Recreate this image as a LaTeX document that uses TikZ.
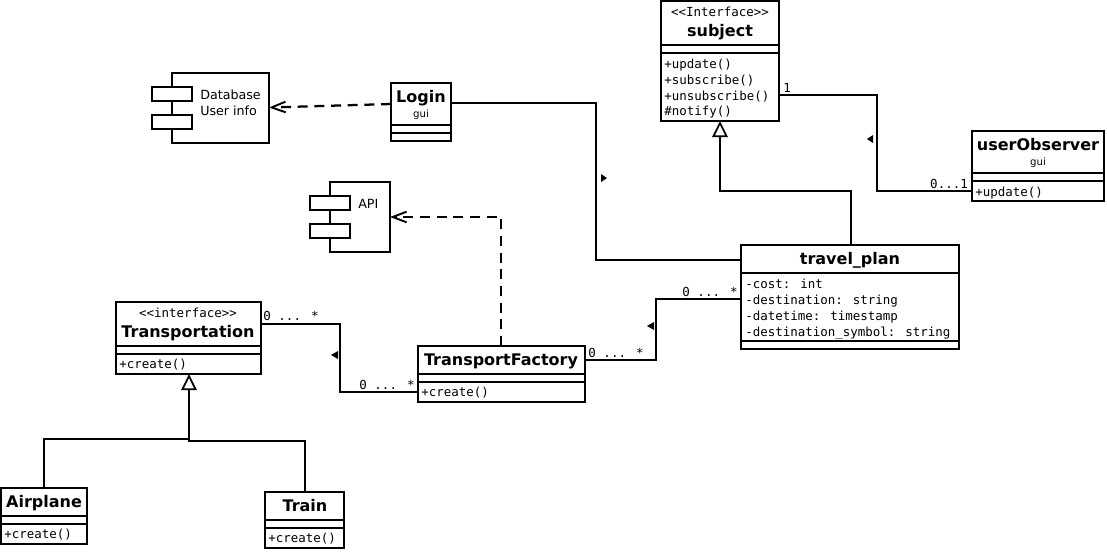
\documentclass[tikz,border=0pt]{standalone}
\usepackage{fontspec}
\setmainfont{DejaVu Sans}
\newfontfamily\monof{DejaVu Sans Mono}
\usetikzlibrary{arrows.meta}
\tikzset{
  x=.75pt,y=-.75pt,
  umlbox/.style={draw,line width=1.7pt,fill=white,rectangle,inner sep=0pt,outer sep=0pt,anchor=north west},
  divline/.style={line width=1.7pt},
  conn/.style={line width=1.7pt,line join=miter},
  depend/.style={line width=1.7pt,dash pattern=on 7.5pt off 5pt,-{Straight Barb[length=10.5pt,width=8pt,line width=1.4pt]}},
  general/.style={conn,-{Triangle[open,fill=white,length=12pt,width=11.5pt,line width=1.3pt]}},
  titletext/.style={inner sep=0pt,anchor=mid,yshift=-1.3pt,font=\fontsize{12}{14}\selectfont\bfseries},
  stereo/.style={inner sep=0pt,anchor=mid,font=\monof\fontsize{9.35}{11}\selectfont},
  small/.style={inner sep=0pt,anchor=mid,font=\fontsize{7.6}{9}\selectfont},
  member/.style={inner sep=0pt,anchor=mid west,yshift=-1.1pt,font=\monof\fontsize{9.35}{11}\selectfont},
  multi/.style={inner sep=0pt,anchor=mid,yshift=-.5pt,font=\monof\fontsize{9.35}{11}\selectfont},
  comptext/.style={inner sep=0pt,anchor=mid west,yshift=-1.3pt,font=\fontsize{9.5}{11}\selectfont},
  marker/.style={fill=black}
}
\newcommand{\mkbox}[5]{\node[umlbox,minimum width={(#4-#2)*.75pt},minimum height={(#5-#3)*.75pt}] (#1) at (#2,#3) {};}
\newcommand{\mkdiv}[2]{\draw[divline] (#1.west |- 0,#2) -- (#1.east |- 0,#2);}
\begin{document}
\begin{tikzpicture}
\useasboundingbox (0,0) rectangle (1107,551);
\fill[white] (0,0) rectangle (1107,551);

\coordinate (genjoin) at (189,440);

% class boxes
\mkbox{subject}{661}{1}{779}{121}
\mkdiv{subject}{45}\mkdiv{subject}{53}
\node[stereo] (subjs) at (720,13) {<{}<Interface>{}>};
\node[titletext] (subjt) at (720,31) {subject};
\node[member] (subj1) at (664,63) {+update()};
\node[member] (subj2) at (664,79) {+subscribe()};
\node[member] (subj3) at (664,95) {+unsubscribe()};
\node[member] (subj4) at (664,110) {\#notify()};

\mkbox{login}{391}{83}{451}{141}
\mkdiv{login}{125}\mkdiv{login}{133}
\node[titletext] (logint) at (421,97) {Login};
\node[small] (loging) at (421,114) {gui};

\mkbox{obs}{972}{131}{1104}{201}
\mkdiv{obs}{173}\mkdiv{obs}{181}
\node[titletext] (obst) at (1038,145) {userObserver};
\node[small] (obsg) at (1038,162) {gui};
\node[member] (obs1) at (975,191) {+update()};

\mkbox{plan}{741}{245}{959}{349}
\mkdiv{plan}{273}\mkdiv{plan}{341}
\node[titletext] (plant) at (850,259) {travel\_plan};
\node[member] (plan1) at (745,283) {-cost: int};
\node[member] (plan2) at (745,299) {-destination: string};
\node[member] (plan3) at (745,315) {-datetime: timestamp};
\node[member] (plan4) at (745,331) {-destination\_symbol: string};

\mkbox{trans}{116}{302}{261}{374}
\mkdiv{trans}{346}\mkdiv{trans}{354}
\node[stereo] (transs) at (188,314) {<{}<interface>{}>};
\node[titletext] (transt) at (188,332) {Transportation};
\node[member] (trans1) at (119,363) {+create()};

\mkbox{factory}{418}{346}{585}{402}
\mkdiv{factory}{374}\mkdiv{factory}{382}
\node[titletext] (factt) at (501,360) {TransportFactory};
\node[member] (fact1) at (421,391) {+create()};

\mkbox{air}{1}{488}{87}{544}
\mkdiv{air}{516}\mkdiv{air}{524}
\node[titletext] (airt) at (44,502) {Airplane};
\node[member] (air1) at (4,533) {+create()};

\mkbox{train}{265}{492}{344}{548}
\mkdiv{train}{520}\mkdiv{train}{528}
\node[titletext] (traint) at (305,506) {Train};
\node[member] (train1) at (268,537) {+create()};

% components
\mkbox{db}{172}{73}{269}{143}
\mkbox{dbp1}{152}{87}{192}{101}
\mkbox{dbp2}{152}{115}{192}{129}
\node[comptext] (dbt1) at (200,94) {Database};
\node[comptext] (dbt2) at (200,110) {User info};

\mkbox{api}{330}{182}{390}{252}
\mkbox{apip1}{310}{196}{350}{210}
\mkbox{apip2}{310}{224}{350}{238}
\node[comptext] (apit) at (358,203) {API};

% connectors
\draw[conn] (subject.east |- 0,95) -- (877,95) -- (877,191) -- (obs.west |- 0,191);
\draw[conn] (login.east |- 0,103) -- (596,103) -- (596,260) -- (plan.west |- 0,260);
\draw[conn] (factory.east |- 0,360) -- (656,360) -- (656,299) -- (plan.west |- 0,299);
\draw[conn] (trans.east |- 0,324) -- (340,324) -- (340,392) -- (factory.west |- 0,392);
\draw[general] (plan.north -| 851,0) -- (851,191) -- (720,191) -- (subject.south -| 720,0);
\draw[general] (genjoin) -- (trans.south -| 189,0);
\draw[conn] (air.north -| 44,0) -- (44,439) -- (190,439);
\draw[conn] (train.north -| 305,0) -- (305,441) -- (188,441);
\draw[depend] (login.west |- 0,104) -- (db.east |- 0,107.5);
\draw[depend] (factory.north -| 501,0) -- (501,217) -- (api.east |- 0,217);

% direction markers
\fill[marker] (867,139) -- (873,135) -- (873,143) -- cycle;
\fill[marker] (607,178) -- (601,174) -- (601,182) -- cycle;
\fill[marker] (331,355) -- (338,351) -- (338,359) -- cycle;
\fill[marker] (647,326) -- (654,322) -- (654,330) -- cycle;

% multiplicities
\node[multi] (m1) at (787,88) {1};
\node[multi] (m2) at (949,184) {0...1};
\node[multi] (m3) at (291,316) {0 ... *};
\node[multi] (m4) at (387,385) {0 ... *};
\node[multi] (m5) at (616,353) {0 ... *};
\node[multi] (m6) at (710,292) {0 ... *};
\end{tikzpicture}
\end{document}
